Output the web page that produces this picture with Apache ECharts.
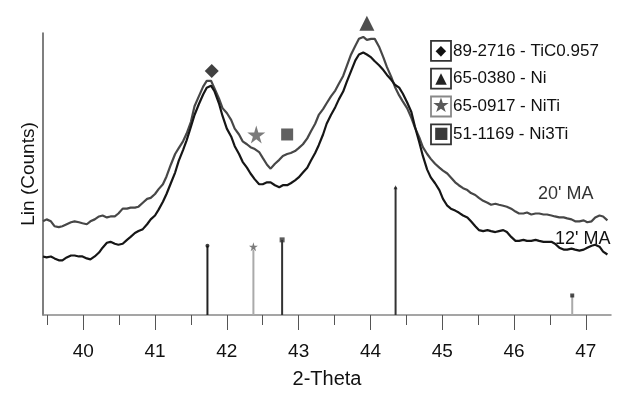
<!DOCTYPE html>
<html>
<head>
<meta charset="utf-8">
<script src="https://cdn.jsdelivr.net/npm/echarts@6/dist/echarts.min.js"></script>
<style>
  html, body { margin: 0; padding: 0; background: #fff; }
  #main { width: 618px; height: 394px; }
</style>
</head>
<body>
<div id="main"></div>
<script>
var chartDom = document.getElementById('main');
var myChart = echarts.init(chartDom);
var option;

const FONT = "'Liberation Sans', Arial, sans-serif";

// 2-Theta positions of the scan points
const theta = [
  39.44, 39.49, 39.55, 39.60, 39.66, 39.71, 39.77, 39.83, 39.88, 39.94,
  39.99, 40.05, 40.10, 40.16, 40.22, 40.27, 40.33, 40.38, 40.44, 40.49,
  40.55, 40.61, 40.66, 40.72, 40.77, 40.83, 40.89, 40.94, 41.00, 41.05,
  41.11, 41.16, 41.22, 41.28, 41.33, 41.39, 41.44, 41.50, 41.55, 41.61,
  41.67, 41.72, 41.78, 41.83, 41.89, 41.94, 42.00, 42.06, 42.11, 42.17,
  42.22, 42.28, 42.33, 42.39, 42.45, 42.50, 42.56, 42.61, 42.67, 42.73,
  42.78, 42.84, 42.89, 42.95, 43.00, 43.06, 43.12, 43.17, 43.23, 43.28,
  43.34, 43.39, 43.45, 43.51, 43.56, 43.62, 43.67, 43.73, 43.79, 43.84,
  43.90, 43.95, 44.01, 44.06, 44.12, 44.18, 44.23, 44.29, 44.34, 44.40,
  44.45, 44.51, 44.57, 44.62, 44.68, 44.73, 44.79, 44.84, 44.90, 44.96,
  45.01, 45.07, 45.12, 45.18, 45.23, 45.29, 45.35, 45.40, 45.46, 45.51,
  45.57, 45.63, 45.68, 45.74, 45.79, 45.85, 45.90, 45.96, 46.02, 46.07,
  46.13, 46.18, 46.24, 46.30, 46.35, 46.41, 46.46, 46.52, 46.57, 46.63,
  46.69, 46.74, 46.80, 46.85, 46.91, 46.97, 47.02, 47.08, 47.13, 47.19,
  47.24, 47.30
];

// 20' MA counts
const counts20 = [
  96, 98, 96, 91, 90, 91, 93, 95, 96, 95,
  94, 93, 96, 98, 101, 102, 100, 101, 101, 104,
  109, 109, 110, 110, 111, 115, 119, 120, 124, 129,
  134, 142, 154, 165, 171, 178, 186, 198, 214, 224,
  234, 240, 240, 232, 222, 212, 207, 200, 191, 185,
  178, 175, 172, 170, 167, 161, 154, 150, 155, 159,
  163, 165, 166, 168, 171, 175, 181, 188, 196, 205,
  211, 217, 224, 230, 237, 245, 255, 267, 276, 283,
  285, 282, 283, 283, 275, 264, 254, 244, 234, 225,
  219, 212, 202, 192, 182, 172, 165, 160, 155, 151,
  148, 145, 141, 136, 133, 130, 128, 125, 123, 120,
  117, 115, 113, 114, 113, 112, 111, 109, 106, 104,
  104, 105, 103, 104, 104, 103, 103, 102, 101, 100,
  100, 99, 98, 96, 96, 97, 95, 96, 100, 102,
  101, 97
];

// 12' MA counts
const counts12 = [
  60, 59, 60, 58, 56, 56, 59, 61, 61, 60,
  60, 58, 57, 60, 64, 69, 74, 75, 73, 72,
  73, 77, 80, 84, 86, 88, 93, 98, 102, 108,
  116, 124, 135, 146, 158, 169, 179, 193, 205, 216,
  226, 233, 235, 229, 217, 204, 191, 183, 173, 165,
  157, 151, 145, 139, 134, 134, 136, 136, 133, 131,
  133, 133, 135, 138, 141, 146, 151, 158, 166, 174,
  185, 196, 205, 213, 221, 229, 239, 250, 261, 267,
  269, 267, 264, 260, 256, 251, 246, 241, 236, 233,
  227, 218, 208, 193, 177, 163, 149, 141, 135, 128,
  119, 112, 109, 107, 105, 102, 100, 96, 91, 87,
  86, 87, 86, 85, 86, 87, 85, 80, 76, 76,
  77, 76, 76, 77, 76, 75, 75, 75, 73, 69,
  67, 67, 68, 67, 66, 67, 69, 71, 72, 70,
  65, 62
];

// reference pattern sticks
const stickPos = [41.73, 42.37, 42.77, 44.35, 46.81];
const stickHeight = [71, 67, 77, 131, 20];
const stickPhase = ['TiC', 'NiTi', 'Ni3Ti', 'Ni', 'other'];

// phase legend entries and the markers over the peaks
const phaseNames = ['89-2716 - TiC0.957', '65-0380 - Ni', '65-0917 - NiTi', '51-1169 - Ni3Ti'];
const phasePeakX = [41.79, 43.95, 42.41, 42.84];
const phasePeakY = [250, 299, 185, 185];

const xTicks = [40, 41, 42, 43, 44, 45, 46, 47];
const xMinorTicks = [39.5, 40.5, 41.5, 42.5, 43.5, 44.5, 45.5, 46.5];

const STAR = 'path://M50,0 L61,35 L98,35 L68,57 L79,91 L50,70 L21,91 L32,57 L2,35 L39,35 Z';

const phaseStyle = {
  'TiC':   { color: '#111', symbol: 'diamond', size: 14, stickColor: '#222', topSymbol: 'circle', topSize: 4, topColor: '#111', glyph: '◆', key: 'd', glyphSize: 14 },
  'Ni':    { color: '#222', symbol: 'triangle', size: 15, stickColor: '#333', topSymbol: 'triangle', topSize: 4, topColor: '#222', glyph: '▲', key: 't', glyphSize: 15 },
  'NiTi':  { color: '#5a5a5a', symbol: STAR, size: 18, stickColor: '#aaa', topSymbol: STAR, topSize: 9, topColor: '#5a5a5a', glyph: '★', key: 's', glyphSize: 20 },
  'Ni3Ti': { color: '#3a3a3a', symbol: 'rect', size: 12, stickColor: '#333', topSymbol: 'rect', topSize: 5, topColor: '#333', glyph: '■', key: 'q', glyphSize: 16 },
  'other': { stickColor: '#aaa', topSymbol: 'rect', topSize: 4, topColor: '#222' }
};
const phaseKeys = ['TiC', 'Ni', 'NiTi', 'Ni3Ti'];

function pairs(xs, ys) {
  return xs.map((x, i) => [x, ys[i]]);
}

function getStickData() {
  return stickPos.map((x, i) => ({
    value: [x, stickHeight[i]],
    itemStyle: { color: phaseStyle[stickPhase[i]].stickColor }
  }));
}

function getStickTopData() {
  return stickPos.map((x, i) => {
    const st = phaseStyle[stickPhase[i]];
    let y = stickHeight[i];
    if (stickPhase[i] === 'NiTi') y = y + 3;
    return {
      value: [x, y],
      symbol: st.topSymbol,
      symbolSize: st.topSize,
      itemStyle: { color: st.topColor }
    };
  });
}

function getPhaseSeries() {
  return phaseNames.map((name, i) => {
    const st = phaseStyle[phaseKeys[i]];
    return {
      name: name,
      type: 'scatter',
      clip: false,
      symbol: st.symbol,
      symbolSize: st.size,
      itemStyle: { color: st.color },
      data: [[phasePeakX[i], phasePeakY[i]]],
      z: 5
    };
  });
}

const legendRich = {
  txt: { fontSize: 17, color: '#111', fontFamily: FONT, padding: [0, 0, 0, 2] }
};
phaseKeys.forEach(k => {
  const st = phaseStyle[k];
  legendRich[st.key] = {
    width: 20, height: 20, align: 'center', verticalAlign: 'middle',
    borderColor: k === 'NiTi' ? '#888' : '#333', borderWidth: 1.8,
    fontSize: st.glyphSize, lineHeight: 20, color: st.color,
    fontFamily: "'DejaVu Sans', sans-serif"
  };
});

option = {
  animation: false,
  backgroundColor: '#fff',
  grid: { left: 43, right: 7, top: 33, bottom: 72 },
  legend: {
    data: phaseNames,
    orient: 'vertical',
    left: 421,
    top: 35,
    itemGap: 6,
    icon: 'none',
    itemWidth: 0,
    itemHeight: 0,
    selectedMode: false,
    formatter: function (name) {
      const i = phaseNames.indexOf(name);
      const st = phaseStyle[phaseKeys[i]];
      return '{' + st.key + '|' + st.glyph + '}{txt|' + name + '}';
    },
    textStyle: { rich: legendRich }
  },
  xAxis: [
    {
      type: 'value',
      min: 39.44,
      max: 47.35,
      name: '2-Theta',
      nameLocation: 'middle',
      nameGap: 54,
      nameTextStyle: { fontSize: 20, color: '#111', fontFamily: FONT },
      axisLine: { show: true, onZero: false, lineStyle: { color: '#888', width: 1.5 } },
      axisTick: { show: true, customValues: xTicks, length: 15, lineStyle: { color: '#555', width: 1 } },
      axisLabel: { customValues: xTicks, fontSize: 19, color: '#111', margin: 27, fontFamily: FONT },
      splitLine: { show: false }
    },
    {
      type: 'value',
      min: 39.44,
      max: 47.35,
      position: 'bottom',
      axisLine: { show: false },
      axisTick: { show: true, customValues: xMinorTicks, length: 10, lineStyle: { color: '#555', width: 1 } },
      axisLabel: { show: false },
      splitLine: { show: false }
    }
  ],
  yAxis: {
    type: 'value',
    min: 0,
    max: 289,
    name: 'Lin (Counts)',
    nameLocation: 'middle',
    nameGap: 5,
    nameTextStyle: { fontSize: 19, color: '#111', fontFamily: FONT },
    axisLine: { show: true, lineStyle: { color: '#555', width: 1.5 } },
    axisTick: { show: false },
    axisLabel: { show: false },
    splitLine: { show: false }
  },
  graphic: [
    { type: 'text', left: 538, top: 185, style: { text: "20' MA", fontSize: 18, fill: '#333', fontFamily: FONT } },
    { type: 'text', left: 555, top: 230, style: { text: "12' MA", fontSize: 18, fill: '#111', fontFamily: FONT } }
  ],
  series: [
    {
      name: "20' MA",
      type: 'line',
      data: pairs(theta, counts20),
      showSymbol: false,
      lineStyle: { color: '#474747', width: 2.2 },
      z: 3
    },
    {
      name: "12' MA",
      type: 'line',
      data: pairs(theta, counts12),
      showSymbol: false,
      lineStyle: { color: '#161616', width: 2.2 },
      z: 3
    },
    {
      name: 'sticks',
      type: 'bar',
      barWidth: 2,
      data: getStickData(),
      z: 2
    },
    {
      name: 'stickTops',
      type: 'scatter',
      data: getStickTopData(),
      z: 2
    }
  ].concat(getPhaseSeries())
};

option && myChart.setOption(option);
</script>
</body>
</html>
